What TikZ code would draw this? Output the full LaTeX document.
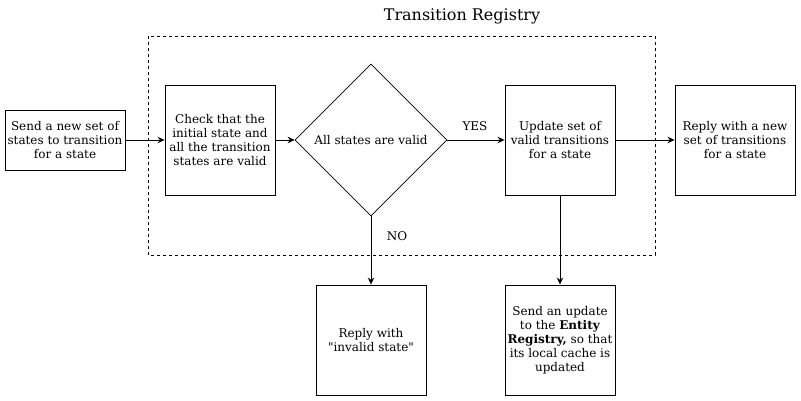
\documentclass[tikz,border=0pt]{standalone}
\usepackage{fontspec}
\setmainfont{DejaVu Serif}[Ligatures=TeXOff]
\usetikzlibrary{shapes.geometric,arrows.meta}
\begin{document}
\begin{tikzpicture}[x=1pt,y=-1pt,
  every node/.style={font=\fontsize{12}{14}\selectfont},
  box/.style={draw,rectangle,inner sep=0pt,align=center,line width=0.9pt},
  conn/.style={draw,line width=0.9pt,-{Stealth[length=7pt,width=6.5pt]}},
  lbl/.style={inner sep=0pt}]
\useasboundingbox (0,0) rectangle (801,401);
\draw[line width=0.7pt,dash pattern=on 3pt off 3pt] (148,36) rectangle (655,255);
\node[lbl,font=\fontsize{16}{19}\selectfont] (title) at (462,16) {Transition Registry};
\node[box,minimum width=120pt,minimum height=60pt] (send) at (65,140) {Send a new set of\\states to transition\\for a state};
\node[box,minimum width=110pt,minimum height=110pt] (check) at (220,140) {Check that the\\initial state and\\all the transition\\states are valid};
\node[draw,diamond,inner sep=0pt,minimum width=152pt,minimum height=152pt,line width=0.7pt] (dia) at (371,140) {All states are valid};
\node[box,minimum width=110pt,minimum height=110pt] (upd) at (560,140) {Update set of\\valid transitions\\for a state};
\node[box,minimum width=120pt,minimum height=110pt] (rep) at (735,140) {Reply with a new\\set of transitions\\for a state};
\node[box,minimum width=110pt,minimum height=110pt] (inv) at (371,340) {Reply with\\\char34 invalid state\char34};
\node[box,minimum width=110pt,minimum height=110pt] (ent) at (560,340) {Send an update\\to the \textbf{Entity}\\\textbf{Registry,} so that\\its local cache is\\updated};
\node[lbl] (yes) at (475,126) {YES};
\node[lbl] (no) at (397,236) {NO};
\draw[conn] (send) -- (check);
\draw[conn] (check) -- (dia);
\draw[conn] (dia) -- (upd);
\draw[conn] (upd) -- (rep);
\draw[conn] (dia.south) -- (inv.north);
\draw[conn] (upd.south) -- (ent.north);
\end{tikzpicture}
\end{document}
